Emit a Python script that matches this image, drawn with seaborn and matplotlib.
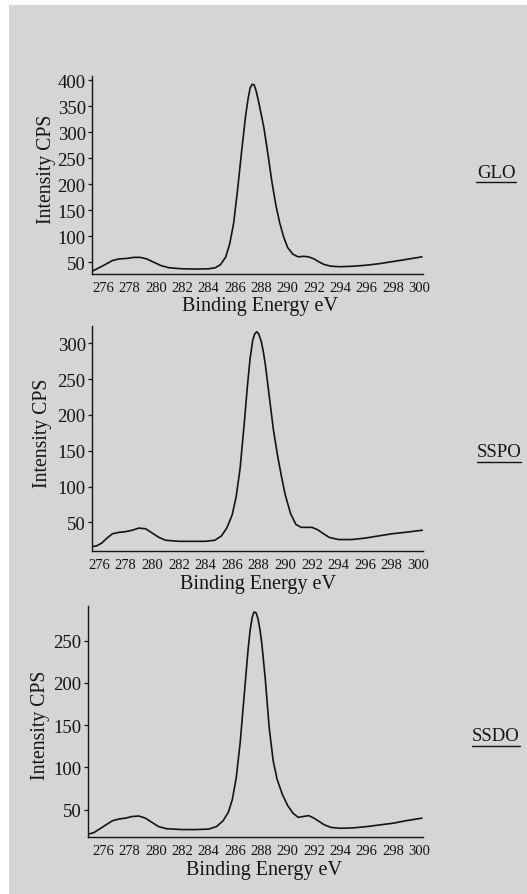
import numpy as np
import pandas as pd
import matplotlib
matplotlib.use("Agg")
import matplotlib.pyplot as plt
from matplotlib.patches import Rectangle
from matplotlib.lines import Line2D
import seaborn as sns

# C 1s spectra: binding energy (eV) and intensity (CPS)
glo_energy = [275.2, 275.6, 276.2, 276.7, 277.2, 277.8, 278.3, 278.8, 279.3, 279.8,
              280.4, 281.0, 282.0, 283.0, 284.0, 284.5, 284.9, 285.3, 285.6, 285.9,
              286.2, 286.5, 286.8, 287.0, 287.15, 287.3, 287.45, 287.6, 287.8, 288.0,
              288.2, 288.5, 288.8, 289.1, 289.4, 289.7, 290.0, 290.4, 290.8, 291.2,
              291.6, 292.0, 292.4, 292.8, 293.3, 294.0, 295.0, 296.0, 297.0, 298.0,
              299.0, 300.2]
glo_cps = [33, 38, 46, 53, 56, 57, 59, 59, 56, 50,
           43, 39, 37, 36.5, 37, 39, 45, 60, 85, 125,
           190, 262, 330, 365, 385, 392, 391, 380, 358, 333,
           308, 258, 205, 160, 125, 98, 78, 65, 60, 61,
           60, 56, 50, 45, 42, 41, 42, 44, 47, 51,
           55, 60]

sspo_energy = [275.45, 275.8, 276.2, 276.6, 277.0, 277.5, 278.0, 278.5, 279.0, 279.5,
               280.0, 280.5, 281.0, 282.0, 283.0, 284.0, 284.7, 285.2, 285.6, 286.0,
               286.3, 286.6, 286.9, 287.15, 287.35, 287.55, 287.7, 287.85, 288.0, 288.2,
               288.35, 288.5, 288.8, 289.1, 289.4, 289.7, 290.0, 290.4, 290.8, 291.2,
               291.6, 292.0, 292.4, 292.8, 293.3, 294.0, 295.0, 296.0, 297.0, 298.0,
               299.0, 300.3]
sspo_cps = [16, 17, 21, 28, 34, 36, 37, 39, 42, 41,
            35, 29, 25, 23.5, 23.5, 23.5, 25, 31, 42, 60,
            85, 125, 185, 240, 278, 304, 313, 316, 313, 302,
            288, 270, 225, 180, 145, 115, 88, 62, 47, 43,
            43, 43, 40, 35, 29, 26, 26, 28, 31, 34,
            36, 39]

ssdo_energy = [274.86, 275.3, 275.7, 276.2, 276.7, 277.2, 277.7, 278.2, 278.7, 279.2,
               279.7, 280.2, 280.8, 282.0, 283.0, 284.0, 284.6, 285.1, 285.5, 285.8,
               286.1, 286.4, 286.7, 287.0, 287.15, 287.3, 287.45, 287.6, 287.75, 287.9,
               288.05, 288.3, 288.6, 288.9, 289.2, 289.6, 290.0, 290.4, 290.8, 291.2,
               291.6, 292.0, 292.4, 292.8, 293.3, 294.0, 295.0, 296.0, 297.0, 298.0,
               299.0, 300.2]
ssdo_cps = [21, 23, 27, 32, 37, 39, 40, 42, 42.5, 40,
            35, 30, 27.5, 26.5, 26.5, 27, 30, 37, 47, 62,
            88, 130, 185, 240, 262, 277, 284, 283, 276, 263,
            245, 205, 147, 108, 86, 68, 55, 46, 41, 42,
            43, 40, 36, 32, 29, 28, 28.5, 30, 32, 34,
            37, 40]

sample_names = ["GLO", "SSPO", "SSDO"]
x_ticks = list(range(276, 301, 2))
y_ticks = [[50, 100, 150, 200, 250, 300, 350, 400],
           [50, 100, 150, 200, 250, 300],
           [50, 100, 150, 200, 250]]

sns.set_style("ticks")
plt.rcParams["font.family"] = ["Liberation Serif", "DejaVu Serif"]
plt.rcParams["axes.facecolor"] = "none"

W, H = 527, 895
fig = plt.figure(figsize=(W / 100, H / 100), dpi=100, facecolor="white")

# paper background
fig.patches.append(Rectangle((9 / W, 0), 1 - 9 / W, 1 - 6 / H,
                             transform=fig.transFigure, facecolor="#d6d4d5",
                             edgecolor="none", zorder=-10))

ink = "#141414"

# axes boxes in pixels (left, right, top, bottom), limits, label centres in pixels
panels = [
    dict(box=(92, 423, 77, 275), xlim=(275.14, 300.28), ylim=(27, 408),
         xlab=(260, 307), ylab=(46, 169), x=glo_energy, y=glo_cps),
    dict(box=(92, 423, 327, 552), xlim=(275.47, 300.35), ylim=(10, 324),
         xlab=(258, 584), ylab=(43, 433), x=sspo_energy, y=sspo_cps),
    dict(box=(88, 423, 607, 838), xlim=(274.84, 300.28), ylim=(17.7, 291),
         xlab=(264, 871), ylab=(41, 725), x=ssdo_energy, y=ssdo_cps),
]

for i, p in enumerate(panels):
    l, r, t, b = p["box"]
    w, h = r - l, b - t
    ax = fig.add_axes([l / W, 1 - b / H, w / W, h / H])
    df = pd.DataFrame({"energy": p["x"], "cps": p["y"]})
    sns.lineplot(data=df, x="energy", y="cps", ax=ax, color=ink,
                 linewidth=1.2, sort=False)
    ax.set_xlim(*p["xlim"])
    ax.set_ylim(*p["ylim"])
    ax.set_xticks(x_ticks)
    ax.set_yticks(y_ticks[i])
    ax.tick_params(axis="x", length=0, pad=5, labelsize=10.5, colors=ink)
    ax.tick_params(axis="y", length=3, width=0.9, pad=1.5, labelsize=13.5,
                   colors=ink, direction="out")
    for s in ("top", "right"):
        ax.spines[s].set_visible(False)
    for s in ("left", "bottom"):
        ax.spines[s].set_color(ink)
        ax.spines[s].set_linewidth(1.0)
    ax.set_xlabel("Binding Energy eV", fontsize=14.5, color=ink, va="center")
    ax.set_ylabel("Intensity CPS", fontsize=14.2, color=ink, va="center")
    xl, yl = p["xlab"], p["ylab"]
    ax.xaxis.set_label_coords((xl[0] - l) / w, (b - xl[1]) / h)
    ax.yaxis.set_label_coords((yl[0] - l) / w, (b - yl[1]) / h)

# sample names with underline
name_pos = [(496, 173, 183, 476, 516), (499, 453, 463, 477, 521), (496, 737, 747, 472, 520)]
for name, (cx, cy, uy, ux0, ux1) in zip(sample_names, name_pos):
    fig.text(cx / W, 1 - cy / H, name, ha="center", va="center",
             fontsize=13.5, color=ink)
    fig.lines.append(Line2D([ux0 / W, ux1 / W], [1 - uy / H, 1 - uy / H],
                            transform=fig.transFigure, color=ink, linewidth=1.0))

fig.savefig("out.png", dpi=100, facecolor=fig.get_facecolor())
